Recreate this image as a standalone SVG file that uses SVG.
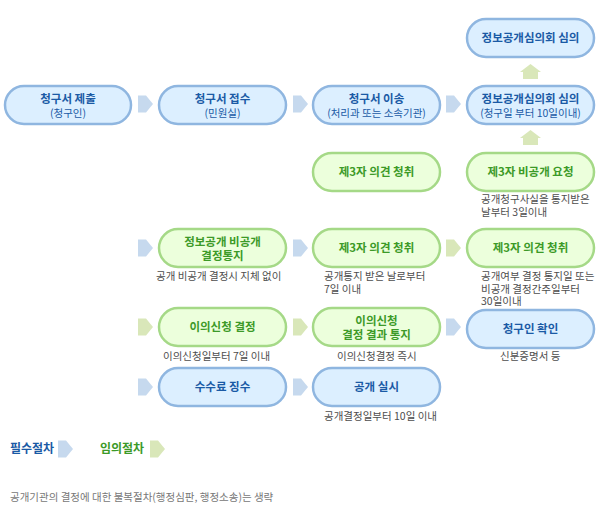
<svg xmlns="http://www.w3.org/2000/svg" width="607" height="516" viewBox="0 0 607 516">
<style>
.b rect{fill:#dcefff;stroke:#8fb6e0;stroke-width:2.5}
.g rect{fill:#ecffdc;stroke:#a5d987;stroke-width:2.5}
text{font-family:"Noto Sans CJK KR","Noto Sans",sans-serif}
.b text{fill:#1a5aa5;text-anchor:middle}
.g text{fill:#3c9a28;text-anchor:middle}
.t{font-size:11.5px;font-weight:bold}
.s{font-size:10.5px}
.n{fill:#4d4d4d;font-size:10.5px}
.ab{fill:#c6d9ee}
.ag{fill:#d9e7b9}
</style>
<defs>
<path id="ar" d="M0,-8.5 H8 L15,0 L8,8.5 H0 Z"/>
<path id="au" d="M0,-7.5 L10.5,0.5 H7.5 V7.5 H-7.5 V0.5 H-10.5 Z"/>
</defs>
<g id="connectors">
<use href="#ar" class="ab" x="138" y="104"/>
<use href="#ar" class="ab" x="293" y="104"/>
<use href="#ar" class="ab" x="446" y="104"/>
<use href="#au" class="ag" x="530.5" y="71.5"/>
<use href="#au" class="ag" x="530.5" y="137.5"/>
<use href="#ar" class="ab" x="138" y="248"/>
<use href="#ar" class="ab" x="293" y="248"/>
<use href="#ar" class="ag" x="446" y="248"/>
<use href="#ar" class="ag" x="138" y="327"/>
<use href="#ar" class="ag" x="293" y="327"/>
<use href="#ar" class="ab" x="446" y="327"/>
<use href="#ar" class="ab" x="138" y="387"/>
<use href="#ar" class="ab" x="293" y="387"/>
</g>
<g id="n1" class="b"><rect x="5" y="86" width="126" height="38" rx="19"/><text class="t" x="68" y="103">청구서 제출</text><text class="s" x="68" y="117">(청구인)</text></g>
<g id="n2" class="b"><rect x="159" y="86" width="127" height="38" rx="19"/><text class="t" x="222.5" y="103">청구서 접수</text><text class="s" x="222.5" y="117">(민원실)</text></g>
<g id="n3" class="b"><rect x="313" y="86" width="127" height="38" rx="19"/><text class="t" x="376.5" y="103">청구서 이송</text><text class="s" x="376.5" y="117">(처리과 또는 소속기관)</text></g>
<g id="n4" class="b"><rect x="467" y="86" width="127" height="38" rx="19"/><text class="t" x="530.5" y="103">정보공개심의회 심의</text><text class="s" x="530.5" y="117">(청구일 부터 10일이내)</text></g>
<g id="n5" class="b"><rect x="467" y="19" width="127" height="38" rx="19"/><text class="t" x="530.5" y="42">정보공개심의회 심의</text></g>
<g id="n6" class="g"><rect x="313" y="153" width="127" height="38" rx="19"/><text class="t" x="376.5" y="176">제3자 의견 청취</text></g>
<g id="n7" class="g"><rect x="467" y="153" width="127" height="38" rx="19"/><text class="t" x="530.5" y="176">제3자 비공개 요청</text></g>
<g id="n8" class="g"><rect x="159" y="229" width="127" height="38" rx="19"/><text class="t" x="222.5" y="246">정보공개 비공개</text><text class="t" x="222.5" y="260">결정통지</text></g>
<g id="n9" class="g"><rect x="313" y="229" width="127" height="38" rx="19"/><text class="t" x="376.5" y="252">제3자 의견 청취</text></g>
<g id="n10" class="g"><rect x="467" y="229" width="127" height="38" rx="19"/><text class="t" x="530.5" y="252">제3자 의견 청취</text></g>
<g id="n11" class="g"><rect x="159" y="308" width="127" height="38" rx="19"/><text class="t" x="222.5" y="331">이의신청 결정</text></g>
<g id="n12" class="g"><rect x="313" y="308" width="127" height="38" rx="19"/><text class="t" x="376.5" y="325">이의신청</text><text class="t" x="376.5" y="339">결정 결과 통지</text></g>
<g id="n13" class="b"><rect x="467" y="310" width="127" height="38" rx="19"/><text class="t" x="530.5" y="333">청구인 확인</text></g>
<g id="n14" class="b"><rect x="159" y="368" width="127" height="38" rx="19"/><text class="t" x="222.5" y="391">수수료 징수</text></g>
<g id="n15" class="b"><rect x="313" y="368" width="127" height="38" rx="19"/><text class="t" x="376.5" y="391">공개 실시</text></g>
<g id="notes">
<text class="n" x="481" y="203">공개청구사실을 통지받은</text>
<text class="n" x="481" y="215.5">날부터 3일이내</text>
<text class="n" x="156" y="280">공개 비공개 결정시 지체 없이</text>
<text class="n" x="324" y="280">공개통지 받은 날로부터</text>
<text class="n" x="324" y="292.5">7일 이내</text>
<text class="n" x="481" y="280">공개여부 결정 통지일 또는</text>
<text class="n" x="481" y="292.5">비공개 결정간주일부터</text>
<text class="n" x="481" y="305">30일이내</text>
<text class="n" x="163" y="360">이의신청일부터 7일 이내</text>
<text class="n" x="337" y="360">이의신청결정 즉시</text>
<text class="n" x="500" y="360">신분증명서 등</text>
<text class="n" x="324" y="420">공개결정일부터 10일 이내</text>
</g>
<g id="legend">
<text x="10" y="453" style="font-size:12px;font-weight:bold;fill:#1a5aa5">필수절차</text>
<use href="#ar" class="ab" x="58" y="449"/>
<text x="100" y="453" style="font-size:12px;font-weight:bold;fill:#3c9a28">임의절차</text>
<use href="#ar" class="ag" x="150" y="449"/>
<text class="n" x="10" y="501" style="fill:#777">공개기관의 결정에 대한 불복절차(행정심판, 행정소송)는 생략</text>
</g>
</svg>
